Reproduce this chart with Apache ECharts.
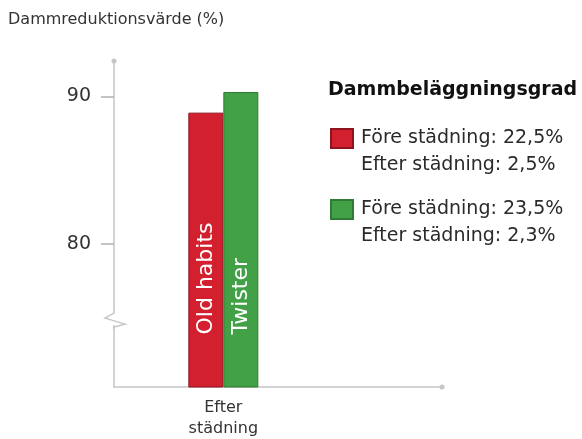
<!DOCTYPE html>
<html>
<head>
<meta charset="utf-8">
<script src="https://cdn.jsdelivr.net/npm/echarts@6/dist/echarts.min.js"></script>
<style>html,body{margin:0;padding:0;background:#fff}#c{width:582px;height:439px}</style>
</head>
<body>
<div id="c"></div>
<script>
// ---- data ----
var categories = ['Efter\nstädning'];
var seriesNames = ['Old habits', 'Twister'];
var oldHabits = [88.9];
var twister = [90.3];
var legendLines = [
  ['Före städning: 22,5%', 'Efter städning: 2,5%'],
  ['Före städning: 23,5%', 'Efter städning: 2,3%']
];
var yTicks = [80, 90];
var yTitle = 'Dammreduktionsvärde (%)';
var legendTitle = 'Dammbeläggningsgrad';

var FONT = 'DejaVu Sans';
var axisData = [''].concat(categories, [' ', '  ']);
function pad(vals) { return [null].concat(vals, [null, null]); }
var legendMap = {};
legendMap[seriesNames[0]] = legendLines[0];
legendMap[seriesNames[1]] = legendLines[1];

var chart = echarts.init(document.getElementById('c'));
var barLabel = {
  show: true,
  position: 'insideBottom',
  rotate: 90,
  align: 'left',
  verticalAlign: 'middle',
  distance: 53,
  color: '#fff',
  fontFamily: FONT,
  fontSize: 22,
  formatter: function (p) { return p.seriesName; }
};
var option = {
  animation: false,
  textStyle: { fontFamily: FONT },
  title: [
    { text: yTitle, left: 8, top: 12, padding: 0,
      textStyle: { fontFamily: FONT, fontSize: 16, fontWeight: 'normal', color: '#333' } },
    { text: legendTitle, left: 328, top: 81, padding: 0,
      textStyle: { fontFamily: FONT, fontSize: 19, fontWeight: 'bold', color: '#111' } }
  ],
  legend: {
    orient: 'vertical',
    left: 330,
    top: 98,
    padding: 0,
    itemGap: -10,
    itemWidth: 22,
    itemHeight: 19,
    icon: 'rect',
    selectedMode: false,
    data: seriesNames,
    formatter: function (name) { return ' \n' + legendMap[name].join('\n'); },
    textStyle: { fontFamily: FONT, fontSize: 19, lineHeight: 27, color: '#2a2a2a', padding: [0, 0, 0, 3] }
  },
  grid: { left: 114, right: 140, top: 61, bottom: 50, containLabel: false },
  xAxis: {
    type: 'category',
    data: axisData,
    boundaryGap: false,
    axisLine: { show: true, symbol: ['none', 'circle'], symbolSize: [5, 5],
      lineStyle: { color: '#c6c6c6', width: 1.5 } },
    axisTick: { show: false },
    axisLabel: { interval: 0, fontFamily: FONT, fontSize: 16, lineHeight: 21, color: '#333', margin: 10 },
    splitLine: { show: false }
  },
  yAxis: {
    type: 'value',
    min: 70.3,
    max: 92.4,
    axisLine: { show: true, symbol: ['none', 'circle'], symbolSize: [5, 5],
      lineStyle: { color: '#c6c6c6', width: 1.5 } },
    axisTick: { show: true, customValues: yTicks, length: 13, lineStyle: { color: '#b0b0b0', width: 1.5 } },
    axisLabel: { customValues: yTicks, fontFamily: FONT, fontSize: 19, color: '#333', margin: 23 },
    splitLine: { show: false }
  },
  series: [
    { name: seriesNames[0], type: 'bar', data: pad(oldHabits), barWidth: 35, barGap: 0,
      itemStyle: { color: '#d2202e', borderColor: '#8e1520', borderWidth: 1 }, label: barLabel },
    { name: seriesNames[1], type: 'bar', data: pad(twister), barWidth: 35, barGap: 0,
      itemStyle: { color: '#42a047', borderColor: '#2f7a35', borderWidth: 1 }, label: barLabel }
  ]
};
chart.setOption(option);

// axis-break decoration on the y axis
var breakValue = 74.9;
var p = chart.convertToPixel({ gridIndex: 0 }, [0, breakValue]);
var ax = p[0], by = p[1];
chart.setOption({
  graphic: [
    { type: 'rect', shape: { x: ax - 3, y: by - 7, width: 6, height: 13 }, style: { fill: '#fff' }, z: 100 },
    { type: 'polyline', shape: { points: [[ax, by - 8], [ax, by - 6], [ax - 9, by - 1], [ax + 11, by + 5], [ax, by + 8], [ax, by + 10]] },
      style: { stroke: '#c6c6c6', lineWidth: 1.5, fill: null }, z: 101 }
  ]
});
</script>
</body>
</html>
